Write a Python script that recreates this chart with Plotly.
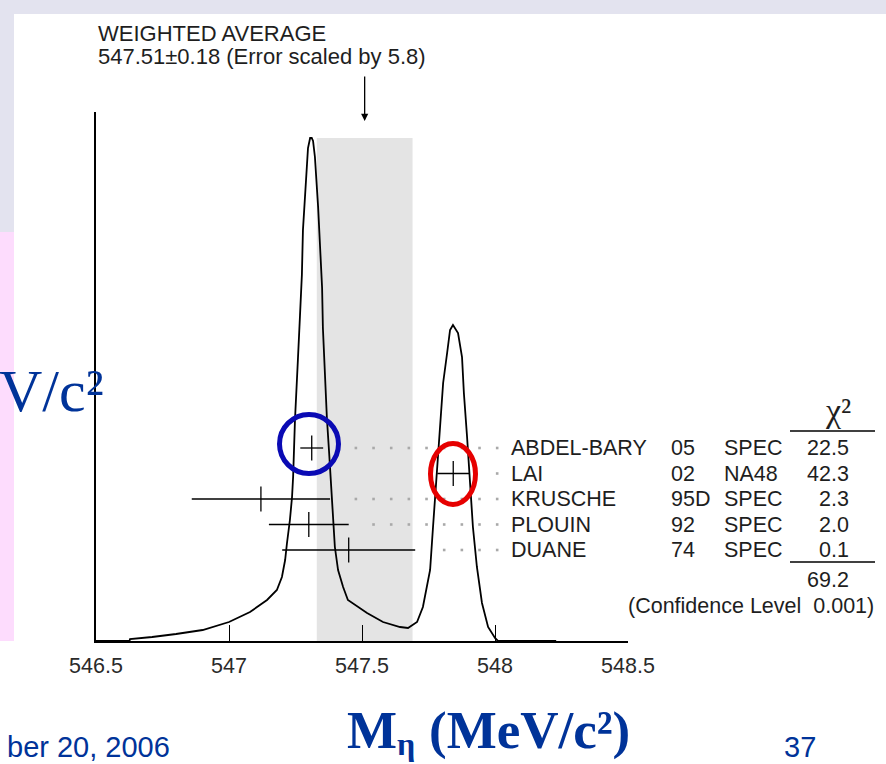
import numpy as np
import plotly.graph_objects as go

# ---------------- data ----------------
# ideogram curve (arbitrary units)
curve_x = [546.500, 546.626, 546.628, 546.711, 546.801, 546.901, 547.000, 547.079, 547.143, 547.180,
           547.199, 547.211, 547.218, 547.229, 547.237, 547.241, 547.248, 547.252, 547.259, 547.267,
           547.274, 547.278, 547.286, 547.293, 547.297, 547.305, 547.311, 547.316, 547.323, 547.335,
           547.342, 547.350, 547.353, 547.361, 547.368, 547.376, 547.385, 547.391, 547.398, 547.410,
           547.429, 547.447, 547.519, 547.579, 547.643, 547.673, 547.707, 547.729, 547.748, 547.756,
           547.767, 547.778, 547.786, 547.797, 547.805, 547.820, 547.831, 547.842, 547.861, 547.876,
           547.883, 547.895, 547.906, 547.917, 547.932, 547.951, 547.974, 548.000, 548.011, 548.230]
curve_y = [0, 0, 2, 4, 7, 11, 19, 29, 41, 51,
           64, 81, 98, 121, 144, 164, 221, 239, 281, 326,
           366, 411, 446, 473, 493, 503, 503, 500, 484, 434,
           393, 353, 313, 263, 223, 190, 150, 121, 94, 71,
           54, 41, 28, 19, 14, 13, 19, 34, 61, 71,
           114, 154, 188, 221, 258, 288, 311, 316, 308, 284,
           248, 204, 164, 114, 74, 38, 14, 3, 0, 0]

names = ["ABDEL-BARY", "LAI", "KRUSCHE", "PLOUIN", "DUANE"]
years = ["05", "02", "95D", "92", "74"]
techs = ["SPEC", "NA48", "SPEC", "SPEC", "SPEC"]
values = [547.311, 547.843, 547.12, 547.30, 547.45]
errors = [0.043, 0.060, 0.26, 0.15, 0.25]
chi2 = ["22.5", "42.3", "2.3", "2.0", "0.1"]
chi2_total = "69.2"
conf_level = "0.001"
avg_value = 547.51
avg_error = 0.18
scale_factor = "5.8"

tick_vals = [546.5, 547.0, 547.5, 548.0, 548.5]
tick_text = ["546.5", "547", "547.5", "548", "548.5"]

# ---------------- layout helpers ----------------
FW, FH = 886, 764
L, R, T, B = 96, 628, 112, 641
PW, PH = R - L, B - T
def PX(x): return (x - L) / PW
def PY(y): return (B - y) / PH

SANS = "Liberation Sans, Arial, sans-serif"
SERIF = "Liberation Serif, Times New Roman, serif"
BLUE = "#003399"
TXT = "#1e1e1e"

fig = go.Figure()

# ideogram curve
fig.add_trace(go.Scatter(x=curve_x, y=curve_y, mode="lines",
                         line=dict(color="black", width=1.8),
                         hoverinfo="skip", showlegend=False))

# row heights (layout)
row_y = [193 - 25.5 * i for i in range(len(names))]

# dotted leaders
grid = 547.477 + 0.0664 * np.arange(9)
for v, e, yy in zip(values, errors, row_y):
    gx = [g for g in grid if g > v + e + 0.045]
    fig.add_trace(go.Scatter(x=gx, y=[yy] * len(gx), mode="markers",
                             marker=dict(symbol="square", size=2.6, color="#a9a9a9"),
                             hoverinfo="skip", showlegend=False))

# measurements
fig.add_trace(go.Scatter(x=values, y=row_y, mode="markers",
                         marker=dict(symbol="line-ns-open", size=18, color="black",
                                     line=dict(color="black", width=1.3)),
                         error_x=dict(type="data", array=errors, visible=True,
                                      color="black", thickness=1.3, width=0),
                         hoverinfo="skip", showlegend=False))

shapes = []
# weighted average band
shapes.append(dict(type="rect", xref="x", yref="y",
                   x0=avg_value - avg_error, x1=avg_value + avg_error,
                   y0=0, y1=max(curve_y), fillcolor="#e4e4e4",
                   line=dict(width=0), layer="below"))
# slide background pieces
shapes.append(dict(type="rect", xref="paper", yref="paper", x0=PX(0), x1=PX(886),
                   y0=PY(14), y1=PY(0), fillcolor="#e3e3ef", line=dict(width=0), layer="below"))
shapes.append(dict(type="rect", xref="paper", yref="paper", x0=PX(0), x1=PX(14),
                   y0=PY(232), y1=PY(14), fillcolor="#e3e3ef", line=dict(width=0), layer="below"))
shapes.append(dict(type="rect", xref="paper", yref="paper", x0=PX(0), x1=PX(14),
                   y0=PY(641), y1=PY(232), fillcolor="#fddcfd", line=dict(width=0), layer="below"))
# chi2 rules
for yy in (431, 562):
    shapes.append(dict(type="line", xref="paper", yref="paper", x0=PX(790), x1=PX(875),
                       y0=PY(yy), y1=PY(yy), line=dict(color="black", width=1.3)))
# highlight ellipses
shapes.append(dict(type="circle", xref="paper", yref="paper",
                   x0=PX(279.5), x1=PX(338.5), y0=PY(473.5), y1=PY(414.5),
                   line=dict(color="#0a0ab4", width=5)))
shapes.append(dict(type="circle", xref="paper", yref="paper",
                   x0=PX(430.5), x1=PX(475.5), y0=PY(504.5), y1=PY(443.5),
                   line=dict(color="#e60000", width=5)))

ann = []
def text(t, x, y, xanchor="left", size=21.5, color=TXT, family=SANS, xref="paper", yref="paper"):
    ann.append(dict(text=t, x=x, y=y, xref=xref, yref=yref, xanchor=xanchor, yanchor="middle",
                    showarrow=False, font=dict(size=size, color=color, family=family)))

text("WEIGHTED AVERAGE", PX(96), PY(34), size=22)
text(f"{avg_value:.2f}±{avg_error:.2f} (Error scaled by {scale_factor})", PX(96), PY(56), size=22)

# arrow to the average
ann.append(dict(x=avg_value, y=PY(121), xref="x", yref="paper", text="", showarrow=True,
                ax=0, ay=-46, arrowhead=2, arrowsize=1.1, arrowwidth=1.3, arrowcolor="black"))

for n, yr, tc, c, yy in zip(names, years, techs, chi2, row_y):
    text(n, PX(509), yy, yref="y")
    text(yr, PX(669), yy, yref="y")
    text(tc, PX(722), yy, yref="y")
    text(c, PX(851), yy, xanchor="right", yref="y")

text("χ²", PX(853), PY(410), xanchor="right", size=34, family=SERIF)
text(chi2_total, PX(851), PY(580), xanchor="right")
text(f"(Confidence Level\u00a0\u00a0{conf_level})", PX(876), PY(606), xanchor="right")

# slide texts
text("V/c²", PX(-3), PY(391), size=60, color=BLUE, family=SERIF)
text("<b>M</b>", PX(345), PY(730), size=53, color=BLUE, family=SERIF)
text("<b>η</b>", PX(395), PY(744), size=32, color=BLUE, family=SERIF)
text("<b>(MeV/c²)</b>", PX(427), PY(730), size=53, color=BLUE, family=SERIF)
text("ber 20, 2006", PX(172), PY(747), xanchor="right", size=29, color=BLUE)
text("37", PX(782), PY(747), size=29, color=BLUE)

fig.update_layout(
    width=FW, height=FH,
    margin=dict(l=L, r=FW - R, t=T, b=FH - B, pad=0),
    paper_bgcolor="white", plot_bgcolor="white",
    showlegend=False,
    shapes=shapes, annotations=ann,
    xaxis=dict(range=[546.5, 548.5], tickvals=tick_vals, ticktext=tick_text,
               ticks="inside", ticklen=16, tickwidth=1.3, tickcolor="black",
               showline=True, linecolor="black", linewidth=2, mirror=False,
               showgrid=False, zeroline=False, ticklabelstandoff=4,
               tickfont=dict(size=21.5, color="#2a2a2a", family=SANS)),
    yaxis=dict(range=[0, PH], showline=True, linecolor="black", linewidth=2,
               showticklabels=False, ticks="", showgrid=False, zeroline=False),
)

fig.write_html("out.html")
